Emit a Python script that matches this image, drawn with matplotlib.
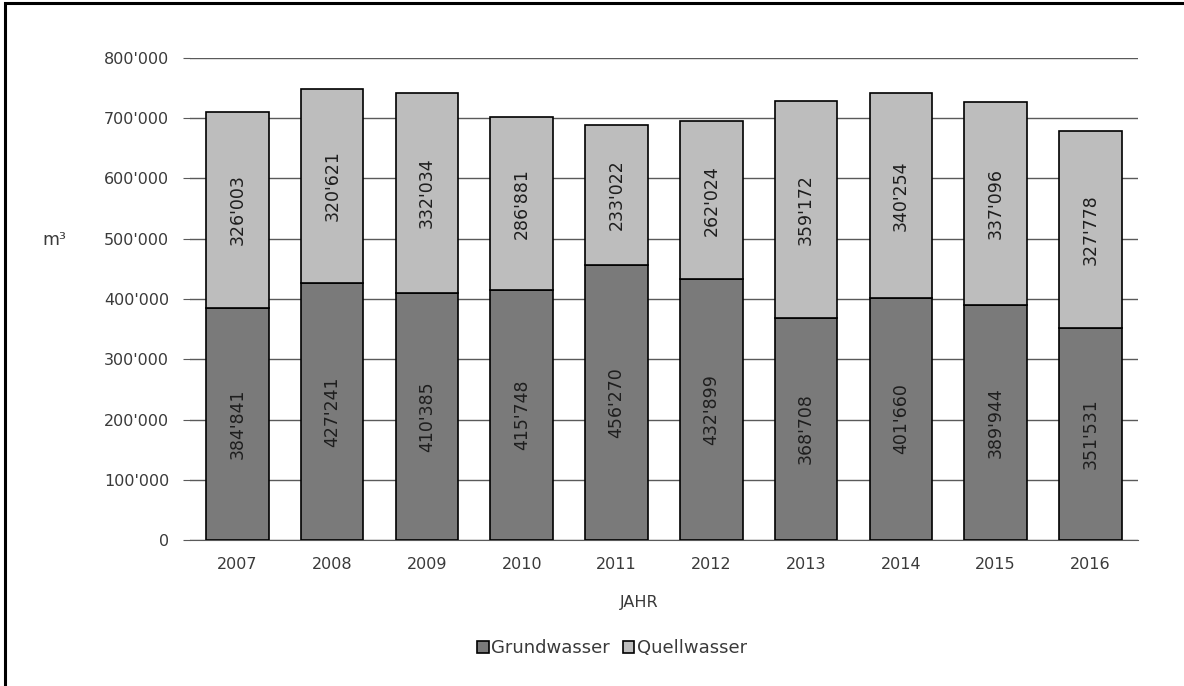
import matplotlib
matplotlib.use("Agg")
import matplotlib.pyplot as plt
from matplotlib.patches import Rectangle

plt.rcParams['font.family'] = ['DejaVu Sans']

years = ['2007', '2008', '2009', '2010', '2011', '2012', '2013', '2014', '2015', '2016']
grundwasser = [384841, 427241, 410385, 415748, 456270, 432899, 368708, 401660, 389944, 351531]
quellwasser = [326003, 320621, 332034, 286881, 233022, 262024, 359172, 340254, 337096, 327778]
yticks = [0, 100000, 200000, 300000, 400000, 500000, 600000, 700000, 800000]

dark = '#7a7a7a'
light = '#bdbdbd'
txt = '#3a3a3a'


def fmt(v):
    return f"{v:,}".replace(',', "'")


fig = plt.figure(figsize=(11.84, 6.86), dpi=100)
ax = fig.add_axes([0.1605, 0.2128, 0.8005, 0.7027])

x = range(len(years))
b1 = ax.bar(x, grundwasser, width=0.66, color=dark, edgecolor='black', linewidth=1.2,
            label='Grundwasser', zorder=3)
b2 = ax.bar(x, quellwasser, width=0.66, bottom=grundwasser, color=light, edgecolor='black',
            linewidth=1.2, label='Quellwasser', zorder=3)

for i in x:
    ax.text(i, grundwasser[i] / 2, fmt(grundwasser[i]), rotation=90, ha='center', va='center',
            fontsize=12.5, color='#1e1e1e', zorder=4)
    ax.text(i, grundwasser[i] + quellwasser[i] / 2, fmt(quellwasser[i]), rotation=90,
            ha='center', va='center', fontsize=12.5, color='#1e1e1e', zorder=4)

ax.set_xlim(-0.5, len(years) - 0.5)
ax.set_ylim(0, 800000)
ax.set_yticks(yticks)
ax.set_yticklabels([fmt(v) for v in yticks], fontsize=11.5, color=txt)
ax.set_xticks(list(x))
ax.set_xticklabels(years, fontsize=11.5, color=txt)
ax.yaxis.grid(True, color='#5a5a5a', linewidth=1.0, zorder=0)
ax.set_axisbelow(True)
for s in ['top', 'right', 'left']:
    ax.spines[s].set_visible(False)
ax.spines['bottom'].set_color('#5a5a5a')
ax.tick_params(axis='y', length=5, color='#5a5a5a', pad=10)
ax.tick_params(axis='x', length=0, pad=12)

fig.text(0.036, 0.65, 'm³', fontsize=12.5, color=txt, va='center', ha='left')
fig.text(0.54, 0.121, 'JAHR', fontsize=11.5, color=txt, ha='center', va='center')
fig.legend(handles=[b1, b2], loc='center', bbox_to_anchor=(0.517, 0.055), ncol=2,
           frameon=False, fontsize=13, handlelength=0.65, handleheight=0.65,
           handletextpad=0.15, columnspacing=0.7, labelcolor=txt)

# frame around the chart area
fig.patches.append(Rectangle((0.0045, -0.01), 1.2, 1.0056, transform=fig.transFigure,
                             fill=False, edgecolor='black', linewidth=2.2))

fig.savefig('out.png', dpi=100)
